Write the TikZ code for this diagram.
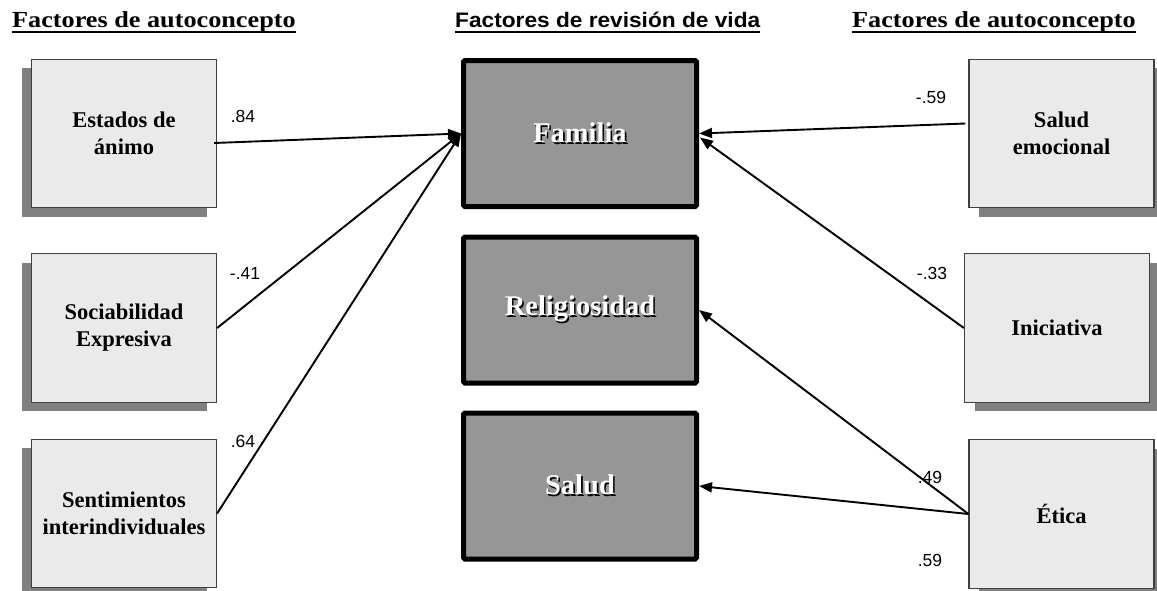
\documentclass[tikz,border=0pt]{standalone}
\usepackage{fontspec}
\setmainfont{Liberation Serif}
\newfontfamily\arialf{Liberation Sans}
\usetikzlibrary{shadows,arrows.meta}
\definecolor{boxfill}{HTML}{EAEAEA}
\definecolor{shadowgray}{HTML}{808080}
\definecolor{cfill}{HTML}{969696}
\definecolor{boxline}{HTML}{404040}
\newcommand\shtxt[1]{\rlap{\kern1.6pt\raisebox{-1.6pt}{\textcolor{black}{#1}}}\textcolor{white}{#1}}
\begin{document}
\begin{tikzpicture}[x=1pt,y=-1pt,
 sidebox/.style={draw=boxline, line width=1.2pt, fill=boxfill, minimum width=185pt, minimum height=148.5pt, align=center, inner sep=0pt, font=\fontsize{22.5}{27}\selectfont\bfseries},
 lshadow/.style={drop shadow={shadow xshift=-10pt, shadow yshift=-9pt, fill=shadowgray, opacity=1}},
 rshadow/.style={drop shadow={shadow xshift=10pt, shadow yshift=-9pt, fill=shadowgray, opacity=1}},
 cbox/.style={draw=black, line width=5pt, fill=cfill, rounded corners=1.5pt, minimum width=233pt, minimum height=146pt, inner sep=0pt, font=\fontsize{28.5}{32}\selectfont\bfseries},
 coef/.style={font=\arialf\fontsize{17.5}{20}\selectfont, inner sep=0pt},
 link/.style={line width=1.9pt, -{Triangle[length=13pt,width=10pt]}},
 hdr/.style={anchor=base west, inner sep=0pt},
 uline/.style={line width=2pt},
]
\useasboundingbox (0,0) rectangle (1157,590);
\fill[white] (0,0) rectangle (1157,590);

% headers
\node[hdr] (h1) at (12,27) {\scalebox{1.14}[1]{\fontsize{23}{27}\selectfont\bfseries Factores de autoconcepto}};
\node[hdr] (h2) at (455,27) {\scalebox{1.08}[1]{\arialf\fontsize{21}{25}\selectfont\bfseries Factores de revisión de vida}};
\node[hdr] (h3) at (852,27) {\scalebox{1.14}[1]{\fontsize{23}{27}\selectfont\bfseries Factores de autoconcepto}};
\draw[uline] ([yshift=-5pt]h1.base west) -- ([yshift=-5pt]h1.base east);
\draw[uline] ([yshift=-5pt]h2.base west) -- ([yshift=-5pt]h2.base east);
\draw[uline] ([yshift=-5pt]h3.base west) -- ([yshift=-5pt]h3.base east);

% side boxes
\node[sidebox,lshadow] (L1) at (124,133.5) {Estados de\\ánimo};
\node[sidebox,lshadow] (L2) at (124,328) {Sociabilidad\\Expresiva};
\node[sidebox,lshadow] (L3) at (124,513.5) {Sentimientos\\interindividuales};
\node[sidebox,rshadow] (R1) at (1061.5,133.5) {Salud\\emocional};
\node[sidebox,rshadow] (R2) at (1057,328) {Iniciativa};
\node[sidebox,rshadow] (R3) at (1061.5,514) {Ética};

% center boxes
\node[cbox] (Fam) at (580,133.5) {\shtxt{Familia}};
\node[cbox] (Rel) at (580,310) {\shtxt{Religiosidad}};
\node[cbox] (Sal) at (580,486) {\shtxt{Salud}};

% connectors
\draw[link] ([shift={(-3,9.5)}]L1.east) -- (Fam.west);
\draw[link] (L2.east) -- (Fam.west);
\draw[link] (L3.east) -- (Fam.west);
\draw[link] ([shift={(-3,-10)}]R1.west) -- (Fam.east);
\draw[link] (R2.west) -- ([shift={(1,4)}]Fam.east);
\draw[link] (R3.west) -- (Rel.east);
\draw[link] (R3.west) -- (Sal.east);

% coefficients
\node[coef] (c1) at (243,116) {.84};
\node[coef] (c2) at (245,273) {-.41};
\node[coef] (c3) at (243,441) {.64};
\node[coef] (c4) at (931,97) {-.59};
\node[coef] (c5) at (932,273) {-.33};
\node[coef] (c6) at (930,477) {.49};
\node[coef] (c7) at (930,560) {.59};
\end{tikzpicture}
\end{document}
